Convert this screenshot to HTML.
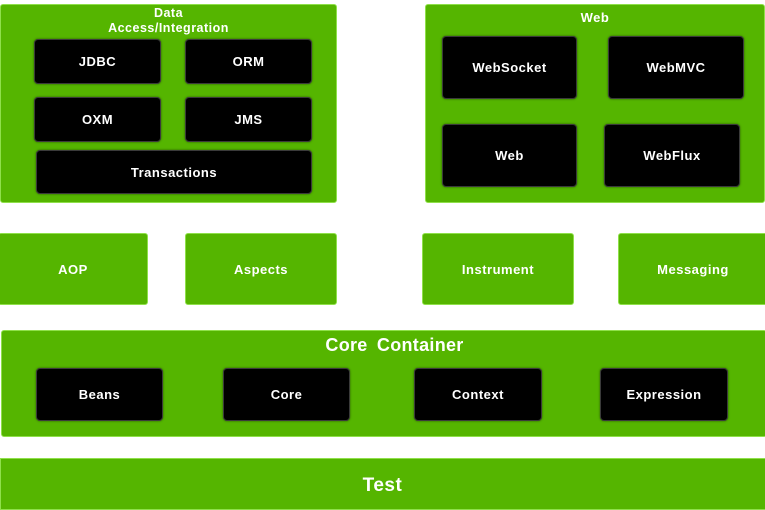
<!DOCTYPE html>
<html><head><meta charset="utf-8"><style>
*{margin:0;padding:0;box-sizing:border-box}
body{width:765px;height:508px;background:#fff;position:relative;overflow:hidden;font-family:"Liberation Sans",sans-serif;font-weight:bold;color:#fff}
.g{position:absolute;background:#55b500;border:1px solid #8fe04a;border-radius:3px}
.b{position:absolute;background:#000;border:1px solid #3a3a3a;border-radius:4px;display:flex;align-items:center;justify-content:center;font-size:13px;letter-spacing:0.5px;box-shadow:0 0 2px #2a5a00}
.t{position:absolute;left:0;right:0;text-align:center}
.gl{display:flex;align-items:center;justify-content:center;font-size:13px;letter-spacing:0.5px}
</style></head><body>
<div class="g" style="left:0;top:4px;width:337px;height:199px"></div>
<div class="t" style="left:0;width:337px;top:6px;font-size:12.5px;line-height:15px;letter-spacing:0.5px">Data<br>Access/Integration</div>
<div class="b" style="left:34px;top:39px;width:127px;height:45px">JDBC</div>
<div class="b" style="left:185px;top:39px;width:127px;height:45px">ORM</div>
<div class="b" style="left:34px;top:97px;width:127px;height:45px">OXM</div>
<div class="b" style="left:185px;top:97px;width:127px;height:45px">JMS</div>
<div class="b" style="left:36px;top:150px;width:276px;height:44px">Transactions</div>

<div class="g" style="left:425px;top:4px;width:340px;height:199px"></div>
<div class="t" style="left:425px;width:340px;top:10px;font-size:13px;letter-spacing:0.5px">Web</div>
<div class="b" style="left:442px;top:36px;width:135px;height:63px">WebSocket</div>
<div class="b" style="left:608px;top:36px;width:136px;height:63px">WebMVC</div>
<div class="b" style="left:442px;top:124px;width:135px;height:63px">Web</div>
<div class="b" style="left:604px;top:124px;width:136px;height:63px">WebFlux</div>

<div class="g gl" style="left:-2px;top:233px;width:150px;height:72px">AOP</div>
<div class="g gl" style="left:185px;top:233px;width:152px;height:72px">Aspects</div>
<div class="g gl" style="left:422px;top:233px;width:152px;height:72px">Instrument</div>
<div class="g gl" style="left:618px;top:233px;width:150px;height:72px">Messaging</div>

<div class="g" style="left:1px;top:330px;width:766px;height:107px"></div>
<div class="t" style="left:24px;top:335px;font-size:18px;word-spacing:4px;letter-spacing:0.3px">Core Container</div>
<div class="b" style="left:36px;top:368px;width:127px;height:53px">Beans</div>
<div class="b" style="left:223px;top:368px;width:127px;height:53px">Core</div>
<div class="b" style="left:414px;top:368px;width:128px;height:53px">Context</div>
<div class="b" style="left:600px;top:368px;width:128px;height:53px">Expression</div>

<div class="g" style="left:0;top:458px;width:767px;height:52px;border-radius:0"></div>
<div class="t" style="top:475px;font-size:19px;letter-spacing:0.5px">Test</div>
</body></html>
